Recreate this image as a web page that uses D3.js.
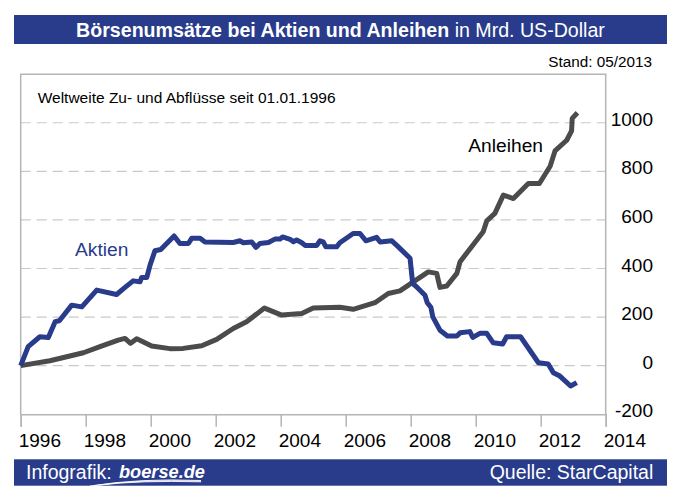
<!DOCTYPE html>
<html>
<head>
<meta charset="utf-8">
<script src="https://cdn.jsdelivr.net/npm/d3@7"></script>
<style>
  html, body { margin: 0; padding: 0; background: #fff; }
  svg { display: block; font-family: "Liberation Sans", Arial, Helvetica, sans-serif; }
</style>
</head>
<body>
<svg id="chart" width="681" height="499"></svg>
<script>
// ---- data ----
const aktienYears = [1996.00,1996.23,1996.59,1996.85,1997.06,1997.19,1997.57,1997.88,1998.34,1998.95,1999.21,1999.46,1999.67,1999.72,1999.88,1999.98,2000.13,2000.31,2000.72,2000.90,2001.16,2001.26,2001.52,2001.67,2002.54,2002.75,2002.85,2003.11,2003.24,2003.36,2003.62,2003.82,2003.98,2004.06,2004.29,2004.39,2004.49,2004.65,2004.75,2005.11,2005.21,2005.31,2005.39,2005.72,2005.82,2006.23,2006.44,2006.62,2006.95,2007.06,2007.42,2007.62,2007.98,2008.06,2008.20,2008.44,2008.51,2008.62,2008.68,2008.90,2009.13,2009.42,2009.52,2009.82,2009.91,2010.13,2010.34,2010.54,2010.83,2010.95,2011.38,2011.93,2012.23,2012.39,2012.59,2012.92,2013.11];
const aktienValues = [0,78,119,116,181,185,249,242,311,293,322,349,345,363,363,414,473,478,534,503,503,524,524,509,507,514,506,509,487,503,507,521,521,530,520,510,517,506,495,495,514,510,489,489,506,544,544,514,528,509,514,489,442,339,322,290,259,240,201,146,122,122,135,140,116,133,133,94,89,119,119,12,7,-29,-43,-84,-70];

const anleihenYears = [1996.00,1996.90,1997.93,1998.44,1999.00,1999.21,1999.38,1999.57,2000.03,2000.59,2001.00,2001.57,2002.03,2002.54,2002.95,2003.50,2004.03,2004.65,2005.00,2005.82,2006.23,2006.90,2007.31,2007.67,2008.08,2008.54,2008.80,2008.90,2009.11,2009.42,2009.52,2010.23,2010.34,2010.59,2010.85,2011.16,2011.62,2011.96,2012.29,2012.44,2012.80,2012.95,2012.97,2013.13];
const anleihenValues = [0,20,53,78,105,112,92,111,81,70,71,82,108,153,181,237,208,215,237,240,232,259,297,308,345,386,380,322,328,380,428,551,596,627,702,688,750,750,821,884,928,967,1018,1041];

const yTicks = [-200, 0, 200, 400, 600, 800, 1000];
const xTicks = [1996, 1998, 2000, 2002, 2004, 2006, 2008, 2010, 2012, 2014];

const titleBold = "Börsenumsätze bei Aktien und Anleihen";
const titleRest = " in Mrd. US-Dollar";
const standText = "Stand: 05/2013";
const subtitleText = "Weltweite Zu- und Abflüsse seit 01.01.1996";
const sourceText = "Quelle: StarCapital";

// ---- drawing ----
const svg = d3.select("#chart");
const BLUE = "#293b8b";
const GRAY_LINE = "#4b4b4b";
const FRAME = "#b5b5b5";

const x = d3.scaleLinear().domain([1996, 2014]).range([20.7, 605.7]);
const y = d3.scaleLinear().domain([-200, 1200]).range([414.2, 74.2]);

// title bar
svg.append("rect").attr("x", 14).attr("y", 15).attr("width", 653).attr("height", 29).attr("fill", BLUE);
const t = svg.append("text").attr("x", 340.5).attr("y", 36.5).attr("text-anchor", "middle")
  .attr("fill", "#fff").attr("font-size", 19.6);
t.append("tspan").attr("font-weight", "bold").text(titleBold);
t.append("tspan").text(titleRest);

svg.append("text").attr("x", 652).attr("y", 66.5).attr("text-anchor", "end")
  .attr("font-size", 15.3).attr("fill", "#000").text(standText);

// gridlines
svg.append("g").selectAll("line").data(yTicks.filter(d => d > -200)).join("line")
  .attr("x1", x(1996)).attr("x2", x(2014))
  .attr("y1", d => y(d)).attr("y2", d => y(d))
  .attr("stroke", "#c9c9c9").attr("stroke-width", 1.2).attr("stroke-dasharray", "10,6");

// frame (left, top, right)
svg.append("path")
  .attr("d", `M${x(1996)},${y(-200)}V${y(1200)}H${x(2014)}V${y(-200)}`)
  .attr("fill", "none").attr("stroke", FRAME).attr("stroke-width", 1.5);

// x axis
const xAxis = d3.axisBottom(x).tickValues(xTicks).tickSize(12.5).tickFormat(d => String(d));
const gx = svg.append("g").attr("transform", `translate(0,${y(-200)})`).call(xAxis);
gx.select(".domain").attr("stroke", FRAME).attr("stroke-width", 1.5);
gx.selectAll(".tick line").attr("stroke", FRAME).attr("stroke-width", 1.5);
gx.selectAll(".tick text").attr("font-size", 19).attr("fill", "#000")
  .attr("font-family", "Liberation Sans, Arial, sans-serif")
  .attr("text-anchor", "start").attr("dx", -2.5).attr("y", 0).attr("dy", 32.5);

// y axis (right, labels only)
const yAxis = d3.axisRight(y).tickValues(yTicks).tickSize(0).tickFormat(d => String(d));
const gy = svg.append("g").attr("transform", `translate(653,0)`).call(yAxis);
gy.select(".domain").remove();
gy.selectAll(".tick text").attr("font-size", 19).attr("fill", "#000")
  .attr("font-family", "Liberation Sans, Arial, sans-serif")
  .attr("text-anchor", "end").attr("x", 0).attr("dy", "0.32em").attr("y", -3.5);

// subtitle
svg.append("text").attr("x", 37.7).attr("y", 102.7).attr("font-size", 15.5).attr("fill", "#000").text(subtitleText);

// lines
const line = d3.line().x(d => x(d[0])).y(d => y(d[1]));
const anleihenData = anleihenYears.map((d, i) => [d, anleihenValues[i]]);
const aktienData = aktienYears.map((d, i) => [d, aktienValues[i]]);

svg.append("path").datum(anleihenData).attr("d", line)
  .attr("fill", "none").attr("stroke", GRAY_LINE).attr("stroke-width", 5)
  .attr("stroke-linejoin", "round").attr("stroke-linecap", "butt");
svg.append("path").datum(aktienData).attr("d", line)
  .attr("fill", "none").attr("stroke", BLUE).attr("stroke-width", 5)
  .attr("stroke-linejoin", "round").attr("stroke-linecap", "butt");

// series labels
svg.append("text").attr("x", 75).attr("y", 255.7).attr("font-size", 19.2).attr("fill", BLUE).text("Aktien");
svg.append("text").attr("x", 468.3).attr("y", 152.3).attr("font-size", 19.2).attr("fill", "#000").text("Anleihen");

// footer bar
svg.append("rect").attr("x", 14).attr("y", 459.3).attr("width", 653).attr("height", 26.4).attr("fill", BLUE);
svg.append("text").attr("x", 26).attr("y", 478.5).attr("font-size", 19.5).attr("fill", "#fff").text("Infografik:");
svg.append("text").attr("x", 119).attr("y", 478).attr("font-size", 18.2).attr("font-weight", "bold")
  .attr("font-style", "italic").attr("fill", "#fff").text("boerse.de");
// logo swoosh
const sw = svg.append("g").attr("fill", "none").attr("stroke", "#fff").attr("stroke-width", 0.9);
[0, 2.2, 4.4].forEach(o => {
  sw.append("path").attr("d", `M${90 + o * 2},${486 - o * 0.2} Q${140},${478 + o * 0.5} ${201},${480.5 + o * 0.3}`);
});
svg.append("text").attr("x", 653.3).attr("y", 478.5).attr("text-anchor", "end")
  .attr("font-size", 19.5).attr("fill", "#fff").text(sourceText);
</script>
</body>
</html>
